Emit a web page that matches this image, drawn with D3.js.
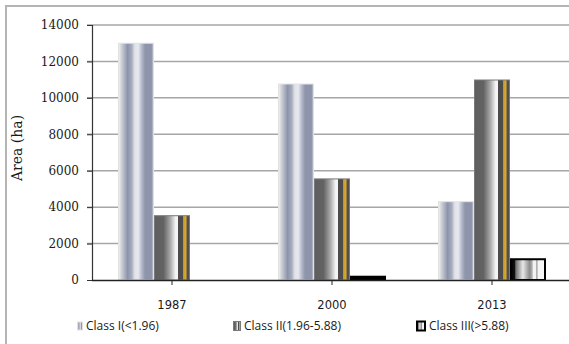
<!DOCTYPE html>
<html>
<head>
<meta charset="utf-8">
<script src="https://cdn.jsdelivr.net/npm/d3@7"></script>
<style>
  html, body { margin: 0; padding: 0; background: #fff; }
  svg { display: block; }
</style>
</head>
<body>
<svg id="chart" width="569" height="344"></svg>
<script>
// Area by slope class for each survey year
const years = ["1987", "2000", "2013"];
const seriesNames = ["Class I(<1.96)", "Class II(1.96-5.88)", "Class III(>5.88)"];
const classI = [13000, 10760, 4300];
const classII = [3530, 5550, 10980];
const classIII = [0, 180, 1140];
const yTicks = [0, 2000, 4000, 6000, 8000, 10000, 12000, 14000];

const seriesValues = [classI, classII, classIII];

const svg = d3.select("#chart");
const W = 569, H = 344;
const plot = { left: 92, right: 572, top: 25, bottom: 280 };

// Gradients giving each bar its banded, shaded look
const defs = svg.append("defs");
function grad(id, stops) {
  const g = defs.append("linearGradient").attr("id", id)
    .attr("x1", 0).attr("x2", 1).attr("y1", 0).attr("y2", 0);
  stops.forEach(([o, c]) => g.append("stop").attr("offset", o).attr("stop-color", c));
}
grad("g0", [
  [0, "#f4efa0"], [0.04, "#f0eeb0"], [0.06, "#d6d9e3"], [0.16, "#b2b6c6"],
  [0.26, "#8d93a9"], [0.38, "#a8adbf"], [0.46, "#dfe1e8"], [0.56, "#e8e9ee"],
  [0.66, "#b6bacb"], [0.76, "#8e94aa"], [0.94, "#8e94aa"], [1, "#c8cad4"]
]);
grad("g1", [
  [0, "#5e5e5e"], [0.26, "#636363"], [0.45, "#a8a8a8"], [0.6, "#f2f2f2"],
  [0.66, "#f6f6f6"], [0.68, "#4c4c4c"], [0.8, "#4c4c4c"], [0.83, "#c89a28"],
  [0.9, "#dcaa30"], [0.93, "#505050"], [1, "#505050"]
]);
grad("g2", [
  [0, "#000"], [0.11, "#111"], [0.14, "#707070"], [0.35, "#e8e8e8"],
  [0.45, "#b8b8b8"], [0.55, "#8c8c8c"], [0.62, "#b0b0b0"], [0.66, "#f2f2f2"],
  [0.72, "#f2f2f2"], [0.76, "#9a9a9a"], [0.8, "#f4f4f4"], [1, "#fafafa"]
]);
const fills = ["url(#g0)", "url(#g1)", "url(#g2)"];
const strokes = ["#e2e2e2", "#7a7a7a", "#000"];
const strokeW = [1, 1, 2];

// Outer frame (left and top edges visible)
svg.append("path")
  .attr("d", `M6,${H} L6,6 L${W},6`)
  .attr("fill", "none").attr("stroke", "#b4b4b4").attr("stroke-width", 2);

const x0 = d3.scaleBand().domain(years).range([plot.left, plot.right])
  .paddingInner(0.325).paddingOuter(0.1625);
const x1 = d3.scaleBand().domain(d3.range(3)).range([0, x0.bandwidth()]);
const y = d3.scaleLinear().domain([0, 14000]).range([plot.bottom, plot.top]);

// Gridlines
svg.append("g").selectAll("line").data(yTicks.filter(t => t > 0)).join("line")
  .attr("x1", plot.left - 5).attr("x2", W)
  .attr("y1", d => y(d)).attr("y2", d => y(d))
  .attr("stroke", "#a6a6a6").attr("stroke-width", 1.5);

// Y axis
const yAxis = svg.append("g").attr("transform", `translate(${plot.left},0)`)
  .call(d3.axisLeft(y).tickValues(yTicks).tickSize(5).tickPadding(8).tickFormat(d3.format("d")));
yAxis.select(".domain").attr("stroke", "#333").attr("stroke-width", 1.2);
yAxis.selectAll(".tick line").attr("stroke", "#333");
yAxis.selectAll("text").attr("font-family", "'DejaVu Serif', serif")
  .attr("font-size", 12).attr("fill", "#1a1a1a");

// Bars
const groups = svg.append("g").selectAll("g").data(years).join("g")
  .attr("transform", d => `translate(${x0(d)},0)`);
groups.selectAll("rect")
  .data((yr, i) => seriesValues.map((vals, s) => ({ s, v: vals[i] })).filter(d => d.v > 0))
  .join("rect")
  .attr("x", d => x1(d.s) + strokeW[d.s] / 2)
  .attr("width", d => x1.bandwidth() - strokeW[d.s])
  .attr("y", d => y(d.v))
  .attr("height", d => y(0) - y(d.v))
  .attr("fill", d => (y(0) - y(d.v) < 6 ? strokes[d.s] : fills[d.s]))
  .attr("stroke", d => strokes[d.s])
  .attr("stroke-width", d => strokeW[d.s]);

// X axis
const xAxis = svg.append("g").attr("transform", `translate(0,${plot.bottom})`)
  .call(d3.axisBottom(x0).tickSize(5).tickPadding(16));
xAxis.select(".domain").attr("d", `M${plot.left},0.5H${W}`)
  .attr("stroke", "#222").attr("stroke-width", 1.5);
xAxis.selectAll(".tick line").attr("stroke", "#222");
xAxis.selectAll("text").attr("font-family", "'DejaVu Sans', sans-serif")
  .attr("font-size", 11.5).attr("fill", "#1a1a1a");

// Y axis title
svg.append("text")
  .attr("transform", "translate(22,148) rotate(-90)")
  .attr("text-anchor", "middle")
  .attr("font-family", "'DejaVu Serif', serif")
  .attr("font-size", 14).attr("fill", "#1a1a1a")
  .text("Area (ha)");

// Legend
const legendItems = [
  { x: 77, w: 6, h: 8 },
  { x: 233, w: 8, h: 9 },
  { x: 416, w: 10, h: 9 }
];
const legend = svg.append("g").selectAll("g").data(seriesNames).join("g")
  .attr("transform", (d, i) => `translate(${legendItems[i].x},326)`);
legend.append("rect")
  .attr("x", (d, i) => strokeW[i] / 2)
  .attr("y", (d, i) => -legendItems[i].h / 2)
  .attr("width", (d, i) => legendItems[i].w - strokeW[i])
  .attr("height", (d, i) => legendItems[i].h)
  .attr("fill", (d, i) => fills[i])
  .attr("stroke", (d, i) => strokes[i])
  .attr("stroke-width", (d, i) => strokeW[i]);
legend.append("text")
  .attr("x", (d, i) => legendItems[i].w + 3)
  .attr("dy", "0.35em")
  .attr("font-family", "'Open Sans', sans-serif")
  .attr("font-size", 12).attr("fill", "#1a1a1a")
  .text(d => d);
</script>
</body>
</html>
